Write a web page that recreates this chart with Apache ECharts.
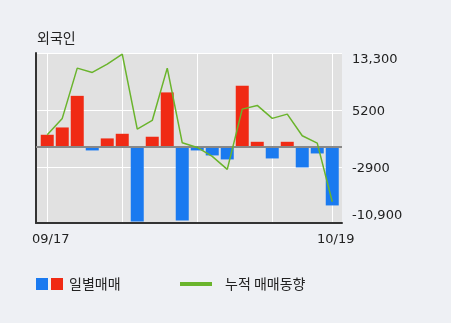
<!DOCTYPE html>
<html>
<head>
<meta charset="utf-8">
<script src="https://cdn.jsdelivr.net/npm/echarts@6/dist/echarts.min.js"></script>
<style>
html,body{margin:0;padding:0;background:#eef0f4;}
#c{width:451px;height:323px;}
</style>
</head>
<body>
<div id="c"></div>
<script>
var title = '외국인';
var xTickIndex = [0, 5, 10, 15, 19];
var xLabelIndex = [0, 19];
var dates = ['09/17','','','','','','','','','','','','','','','','','','','10/19'];
var daily = [1660, 2700, 7200, -570, 1140, 1800, -10680, 1380, 7690, -10530, -570, -1280, -1850, 8640, 660, -1710, 660, -2990, -1000, -8400];
var cumulative = [1660, 3990, 11150, 10530, 11720, 13140, 2470, 3700, 11150, 520, -140, -1420, -3270, 5310, 5840, 3990, 4600, 1520, 470, -7880];
var yTicks = [-10900, -2900, 5200, 13300];
var yTickLabels = ['-10,900', '-2900', '5200', '13,300'];
var barName = '일별매매';
var lineName = '누적 매매동향';

var RED = '#f02a14', BLUE = '#1a7af0', GREEN = '#6ab42c';
var KFONT = "'Noto Sans CJK KR', sans-serif";
var NFONT = "'DejaVu Sans', sans-serif";

var chart = echarts.init(document.getElementById('c'));
chart.setOption({
  backgroundColor: '#eef0f4',
  animation: false,
  textStyle: {fontFamily: KFONT},
  title: {text: title, left: 32, top: 26, textStyle: {fontSize: 14, fontWeight: 'normal', color: '#222', fontFamily: KFONT}},
  grid: {left: 36, top: 53, right: 109, bottom: 100, show: true, backgroundColor: '#e1e1e1', borderWidth: 0},
  legend: [{
    left: 31, top: 272, itemWidth: 12, itemHeight: 12, icon: 'rect',
    data: [{name: barName, itemStyle: {color: BLUE}}],
    formatter: function (n) { return '{r|}{t|' + n + '}'; },
    textStyle: {fontSize: 14, color: '#222', fontFamily: KFONT, padding: [0, 0, 0, -2],
      rich: {r: {width: 12, height: 12, backgroundColor: RED}, t: {padding: [0, 0, 0, 6], fontSize: 14, color: '#222', fontFamily: KFONT}}}
  }, {
    left: 175, top: 272, itemWidth: 32, itemHeight: 4, icon: 'rect',
    data: [{name: lineName, itemStyle: {color: GREEN}}],
    formatter: function (n) { return '{t|' + n + '}'; },
    textStyle: {fontSize: 14, color: '#222', fontFamily: KFONT,
      rich: {t: {padding: [0, 0, 0, 8], fontSize: 14, color: '#222', fontFamily: KFONT}}}
  }],
  xAxis: {
    type: 'value', min: -0.75, max: 19.65,
    axisLine: {show: true, onZero: false, lineStyle: {color: '#333', width: 2}},
    axisTick: {show: false, customValues: xTickIndex},
    splitLine: {show: true, lineStyle: {color: '#ffffff', width: 1}},
    axisLabel: {customValues: xLabelIndex, margin: 10, fontSize: 13, color: '#222', fontFamily: NFONT,
      padding: [0, 0, 0, 7],
      formatter: function (v) { return dates[Math.round(v)] || ''; }}
  },
  yAxis: [{
    type: 'value', position: 'right', min: -10900, max: 13300,
    axisLine: {show: false},
    axisTick: {show: false, customValues: yTicks},
    splitLine: {show: true, lineStyle: {color: '#ffffff', width: 1}},
    axisLabel: {customValues: yTicks, margin: 10, fontSize: 13, color: '#222', fontFamily: NFONT,
      formatter: function (v) {
        var i = yTicks.indexOf(v);
        var s = i >= 0 ? yTickLabels[i] : '';
        if (v === yTicks[yTicks.length - 1]) return '{mx|' + s + '}';
        if (v === yTicks[0]) return '{mn|' + s + '}';
        return '{md|' + s + '}';
      },
      rich: {
        mx: {padding: [14, 0, 0, 0], fontSize: 13, color: '#222', fontFamily: NFONT},
        md: {padding: [4, 0, 0, 0], fontSize: 13, color: '#222', fontFamily: NFONT},
        mn: {padding: [0, 0, 14, 0], fontSize: 13, color: '#222', fontFamily: NFONT}
      }}
  }, {
    type: 'value', position: 'left', min: -10900, max: 13300,
    axisLine: {show: true, lineStyle: {color: '#333', width: 2}},
    axisTick: {show: false}, axisLabel: {show: false}, splitLine: {show: false}
  }],
  series: [{
    name: barName, type: 'bar', barWidth: 13,
    data: daily.map(function (v, i) { return [i, v]; }),
    itemStyle: {color: function (p) { return p.value[1] >= 0 ? RED : BLUE; }},
    markLine: {silent: true, symbol: 'none', label: {show: false},
      lineStyle: {color: '#888', width: 2, type: 'solid'}, data: [{yAxis: 0}]}
  }, {
    name: lineName, type: 'line', showSymbol: false, symbol: 'none',
    data: cumulative.map(function (v, i) { return [i, v]; }),
    lineStyle: {color: GREEN, width: 1.5}, itemStyle: {color: GREEN}, z: 5
  }]
});
</script>
</body>
</html>
